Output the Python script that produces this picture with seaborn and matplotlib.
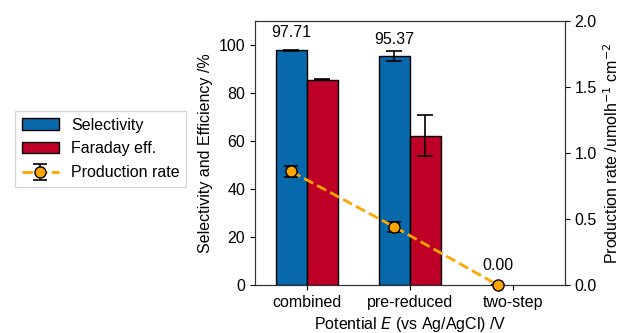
import numpy as np
import pandas as pd
import seaborn as sns
import matplotlib.pyplot as plt
from matplotlib.patches import Patch

# data
categories = ["combined", "pre-reduced", "two-step"]
selectivity = [97.71, 95.37, 0.0]
selectivity_err = [0.3, 2.1, 0.0]
faraday = [85.6, 62.2, 0.0]
faraday_err = [0.3, 8.6, 0.0]
production = [0.86, 0.44, 0.0]
production_err = [0.04, 0.04, 0.0]

sns.set_style("ticks")
plt.rcParams["font.family"] = ["Liberation Sans", "DejaVu Sans"]
plt.rcParams["font.size"] = 11.5
for k in ["text.color", "axes.labelcolor", "xtick.color", "ytick.color"]:
    plt.rcParams[k] = "black"

blue = "#0868ac"
red = "#be0027"
orange = "#ffa500"

df = pd.DataFrame({
    "cat": categories * 2,
    "val": selectivity + faraday,
    "err": selectivity_err + faraday_err,
    "series": ["Selectivity"] * 3 + ["Faraday eff."] * 3,
})

fig = plt.figure(figsize=(6.25, 3.33), dpi=100)
ax = fig.add_axes([0.408, 0.144, 0.496, 0.793])

sns.barplot(data=df, x="cat", y="val", hue="series", ax=ax, width=0.6,
            palette=[blue, red], edgecolor="black", linewidth=1,
            errorbar=None, legend=False, saturation=1)

# error bars at bar centres, hide empty bars
for i, p in enumerate(ax.patches[:6]):
    cx = p.get_x() + p.get_width() / 2
    h = p.get_height()
    e = df["err"].iloc[i]
    if h > 0:
        ax.errorbar(cx, h, yerr=e, color="black", capsize=6, lw=1.2, capthick=1.2)
    else:
        p.set_visible(False)

ax.set_ylim(0, 110)
ax.set_xlim(-0.5, 2.5)
ax.set_yticks([0, 20, 40, 60, 80, 100])
ax.set_xlabel("Potential $E$ (vs Ag/AgCl) /V")
ax.set_ylabel("Selectivity and Efficiency /%")

# value labels
ax.text(-0.15, 102, f"{selectivity[0]:.2f}", ha="center", va="bottom")
ax.text(0.85, 99, f"{selectivity[1]:.2f}", ha="center", va="bottom")

ax2 = ax.twinx()
xs = np.arange(len(categories)) - 0.15
ax2.errorbar(xs, production, yerr=production_err, color=orange, ls="--", lw=2,
             marker="o", markersize=8, markerfacecolor=orange, markeredgecolor="black",
             ecolor="black", capsize=5, capthick=1.2, elinewidth=1.2, zorder=5,
             clip_on=False)
ax2.set_ylim(0, 2.0)
ax2.set_yticks([0, 0.5, 1.0, 1.5, 2.0])
ax2.set_ylabel("Production rate /umolh$^{-1}$ cm$^{-2}$")
ax2.text(xs[2], 0.09, f"{production[2]:.2f}", ha="center", va="bottom")

for a in (ax, ax2):
    for s in a.spines.values():
        s.set_color("#333333")
        s.set_visible(True)

handles = [
    Patch(facecolor=blue, edgecolor="black", label="Selectivity"),
    Patch(facecolor=red, edgecolor="black", label="Faraday eff."),
    ax2.containers[0],
]
labels = ["Selectivity", "Faraday eff.", "Production rate"]
fig.legend(handles, labels, loc="upper left", bbox_to_anchor=(0.012, 0.69),
           frameon=True, fancybox=False, edgecolor="#cccccc",
           handlelength=2.3, labelspacing=0.55)

fig.savefig("out.png", dpi=100)
